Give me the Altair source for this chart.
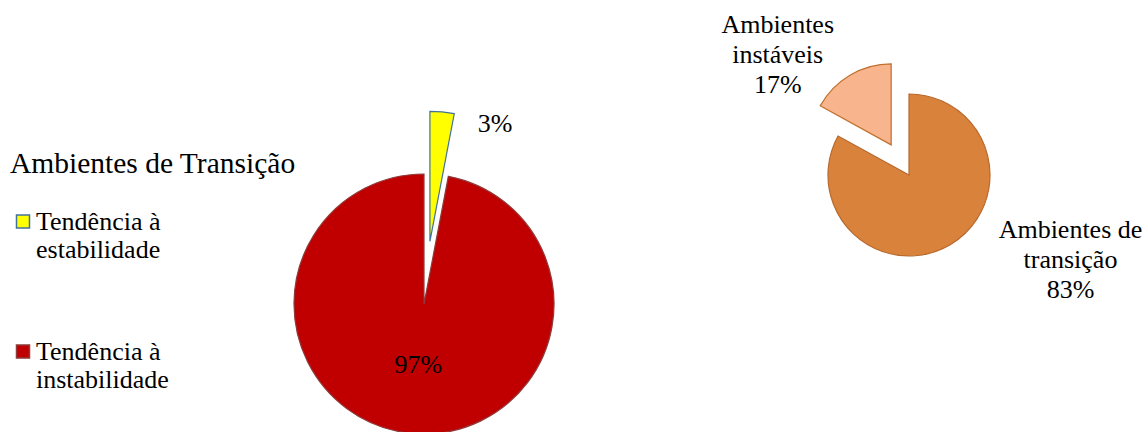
import altair as alt
import pandas as pd

# ---- data ----
pies = ["esquerda", "esquerda", "direita", "direita"]
categories = [
    "Tendência à estabilidade",
    "Tendência à instabilidade",
    "Ambientes de transição",
    "Ambientes instáveis",
]
values = [3, 97, 83, 17]

legend_title = "Ambientes de Transição"
legend_values = categories[:2]

# ---- styling / layout (not data) ----
fills = ["#FFFF00", "#C00000", "#D9823C", "#F8B48D"]
strokes = ["#41719C", "#8E3A3A", "#B8692C", "#C0712E"]
FONT = "Liberation Serif"

centre = {"esquerda": (424, 304, 130), "direita": (909, 175, 81)}
explode = {"Tendência à estabilidade": 63, "Ambientes instáveis": 35}
label_r = {"Tendência à estabilidade": 1.08, "Tendência à instabilidade": 0.46,
           "Ambientes de transição": 1.2, "Ambientes instáveis": 1.2}
nudge = {"Tendência à estabilidade": (52, 22), "Tendência à instabilidade": (0, 1),
         "Ambientes de transição": (112, -29), "Ambientes instáveis": (-64, -36)}
show_name = ["direita"]


def by_pie(i):
    return "datum.pie == 'esquerda' ? %s : %s" % (centre["esquerda"][i], centre["direita"][i])


def by_cat(d, default=0, idx=None):
    expr = str(default)
    for k, v in d.items():
        val = v if idx is None else v[idx]
        expr = "datum.cat == '%s' ? %s : (%s)" % (k, val, expr)
    return expr


df = pd.DataFrame({"pie": pies, "cat": categories, "value": values})

base = (
    alt.Chart(df)
    .transform_joinaggregate(total="sum(value)", groupby=["pie"])
    .transform_window(cum="sum(value)", groupby=["pie"], frame=[None, 0])
    .transform_calculate(
        t0="2*PI*(datum.cum - datum.value)/datum.total",
        t1="2*PI*datum.cum/datum.total",
        mid="(datum.t0 + datum.t1)/2",
        cx=by_pie(0),
        cy=by_pie(1),
        R=by_pie(2),
        ex=by_cat(explode),
        px="datum.cx + datum.ex*sin(datum.mid)",
        py="datum.cy - datum.ex*cos(datum.mid)",
        lr="datum.R * (" + by_cat(label_r) + ")",
        lx="datum.px + datum.lr*sin(datum.mid) + (" + by_cat(nudge, 0, 0) + ")",
        ly="datum.py - datum.lr*cos(datum.mid) + (" + by_cat(nudge, 0, 1) + ")",
        pct="datum.value + '%'",
        wrapped="slice(datum.cat, 0, lastindexof(datum.cat, ' ')) + '\\n' + slice(datum.cat, lastindexof(datum.cat, ' ') + 1)",
        lbl="indexof(%s, datum.pie) >= 0 ? datum.wrapped + '\\n' + datum.pct : datum.pct" % str(show_name),
    )
)

leg = dict(
    values=legend_values,
    orient="none",
    legendX=10,
    legendY=150,
    title=legend_title,
    titleFont=FONT,
    titleFontSize=29.5,
    titleFontWeight="normal",
    titleColor="black",
    titleLimit=600,
    titlePadding=29,
    labelFont=FONT,
    labelFontSize=26,
    labelColor="black",
    labelLimit=0,
    labelOffset=0,
    labelBaseline="middle",
    labelExpr="[slice(datum.label, 0, 11), slice(datum.label, 12)]",
    symbolType="square",
    symbolSize=169,
    symbolStrokeWidth=1.5,
    rowPadding=76,
    padding=0,
)

arcs = base.mark_arc(strokeWidth=1.2).encode(
    theta=alt.Theta("t0:Q", scale=None),
    theta2=alt.Theta2("t1:Q"),
    radius=alt.Radius("R:Q", scale=None),
    x=alt.X("px:Q", scale=None, axis=None),
    y=alt.Y("py:Q", scale=None, axis=None),
    fill=alt.Fill("cat:N", scale=alt.Scale(domain=categories, range=fills), legend=alt.Legend(**leg)),
    stroke=alt.Stroke("cat:N", scale=alt.Scale(domain=categories, range=strokes), legend=alt.Legend(**leg)),
)

labels = base.mark_text(
    font=FONT, fontSize=26, lineBreak="\n", lineHeight=30,
    align="center", baseline="middle", color="black",
).encode(
    x=alt.X("lx:Q", scale=None, axis=None),
    y=alt.Y("ly:Q", scale=None, axis=None),
    text="lbl:N",
)

chart = (
    alt.layer(arcs, labels)
    .properties(width=1146, height=432, padding=0, autosize=alt.AutoSizeParams(type="none"), background="white")
    .configure_view(stroke=None)
)

chart.save("out.html", embed_options={"renderer": "svg", "actions": False})
